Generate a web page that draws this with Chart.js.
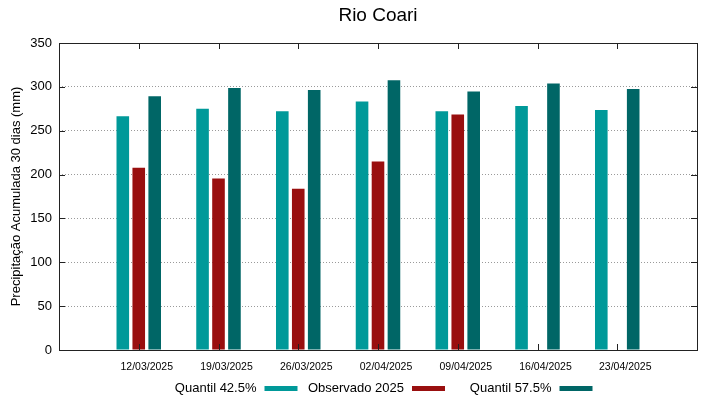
<!DOCTYPE html>
<html>
<head>
<meta charset="utf-8">
<script src="https://cdn.jsdelivr.net/npm/chart.js@4"></script>
<style>
  html, body { margin: 0; padding: 0; background: #fff; }
  #wrap { width: 719px; height: 399px; position: relative; }
</style>
</head>
<body>
<div id="wrap"><canvas id="c" width="719" height="399"></canvas></div>
<script>
const chartTitle = 'Rio Coari';
const yAxisTitle = 'Precipitação Acumulada 30 dias (mm)';
const categories = ['12/03/2025', '19/03/2025', '26/03/2025', '02/04/2025', '09/04/2025', '16/04/2025', '23/04/2025'];
const quantil425 = [266.5, 274.9, 272.2, 283.2, 272.2, 278.3, 273.7];
const observado2025 = [207.7, 195.5, 183.7, 214.9, 268.4, null, null];
const quantil575 = [289.3, 298.8, 296.5, 307.5, 294.6, 303.7, 297.6];
const seriesNames = ['Quantil 42.5%', 'Observado 2025', 'Quantil 57.5%'];
const seriesColors = ['#009999', '#990f0f', '#006666'];
const yMin = 0, yMax = 350, yStep = 50;

// pad with an empty slot on each side (gnuplot-like x range)
const labels = [''].concat(categories, ['']);
const pad = arr => [null].concat(arr, [null]);

const FONT = 'Liberation Sans, Arial, Helvetica, sans-serif';

const framePlugin = {
  id: 'frame',
  afterDraw(chart) {
    const ctx = chart.ctx;
    const a = chart.chartArea;
    const xs = chart.scales.x, ys = chart.scales.y;
    ctx.save();
    ctx.strokeStyle = '#222';
    ctx.lineWidth = 1;
    // box
    ctx.strokeRect(Math.round(a.left) + 0.5, Math.round(a.top) + 0.5,
                   Math.round(a.right - a.left), Math.round(a.bottom - a.top));
    // inward ticks
    const tl = 6;
    ctx.beginPath();
    for (let i = 1; i < labels.length - 1; i++) {
      const x = Math.round(xs.getPixelForTick(i)) + 0.5;
      ctx.moveTo(x, a.top); ctx.lineTo(x, a.top + tl);
      ctx.moveTo(x, a.bottom); ctx.lineTo(x, a.bottom - tl);
    }
    for (let v = yMin + yStep; v < yMax; v += yStep) {
      const y = Math.round(ys.getPixelForValue(v)) + 0.5;
      ctx.moveTo(a.left, y); ctx.lineTo(a.left + tl, y);
      ctx.moveTo(a.right, y); ctx.lineTo(a.right - tl, y);
    }
    ctx.stroke();

    // title
    const cx = (a.left + a.right) / 2;
    ctx.fillStyle = '#000';
    ctx.font = '19px ' + FONT;
    ctx.textAlign = 'center';
    ctx.textBaseline = 'middle';
    ctx.fillText(chartTitle, cx, 16);

    // legend: text right-aligned before sample swatch, gnuplot style
    ctx.font = '13px ' + FONT;
    ctx.textAlign = 'right';
    const colW = 147.5;
    chart.data.datasets.forEach((ds, i) => {
      const sc = cx + 50.5 + (i - 1) * colW;
      const sw = 33;
      ctx.fillStyle = ds.backgroundColor;
      ctx.fillRect(sc - sw / 2, 386, sw, 5);
      ctx.fillStyle = '#000';
      ctx.fillText(ds.label, sc - sw / 2 - 8, 388);
    });
    ctx.restore();
  }
};

new Chart(document.getElementById('c'), {
  type: 'bar',
  data: {
    labels: labels,
    datasets: [
      { label: seriesNames[0], data: pad(quantil425), backgroundColor: seriesColors[0] },
      { label: seriesNames[1], data: pad(observado2025), backgroundColor: seriesColors[1] },
      { label: seriesNames[2], data: pad(quantil575), backgroundColor: seriesColors[2] }
    ]
  },
  options: {
    responsive: false,
    animation: false,
    devicePixelRatio: 1,
    layout: { padding: { top: 43, right: 22, left: 0, bottom: 0 } },
    categoryPercentage: 0.6,
    barPercentage: 0.79,
    plugins: {
      legend: { display: false },
      title: { display: false },
      tooltip: { enabled: false }
    },
    scales: {
      x: {
        offset: false,
        grid: { display: false, drawTicks: false },
        border: { display: false },
        ticks: {
          color: '#000',
          font: { family: FONT, size: 10.5 },
          padding: 11,
          labelOffset: 8,
          maxRotation: 0,
          autoSkip: false
        },
        afterFit(s) { s.height = 49; }
      },
      y: {
        min: yMin,
        max: yMax,
        grid: {
          drawTicks: false,
          color: ctx => (ctx.tick && (ctx.tick.value === yMin || ctx.tick.value === yMax)) ? 'rgba(0,0,0,0)' : '#9a9a9a',
          lineWidth: 1
        },
        border: { display: false, dash: [1, 2] },
        ticks: {
          stepSize: yStep,
          color: '#000',
          font: { family: FONT, size: 13 },
          padding: 7
        },
        title: {
          display: true,
          text: yAxisTitle,
          color: '#000',
          font: { family: FONT, size: 13 },
          padding: { top: 9, bottom: 0 }
        },
        afterFit(s) { s.width = 59; }
      }
    }
  },
  plugins: [framePlugin]
});
</script>
</body>
</html>
